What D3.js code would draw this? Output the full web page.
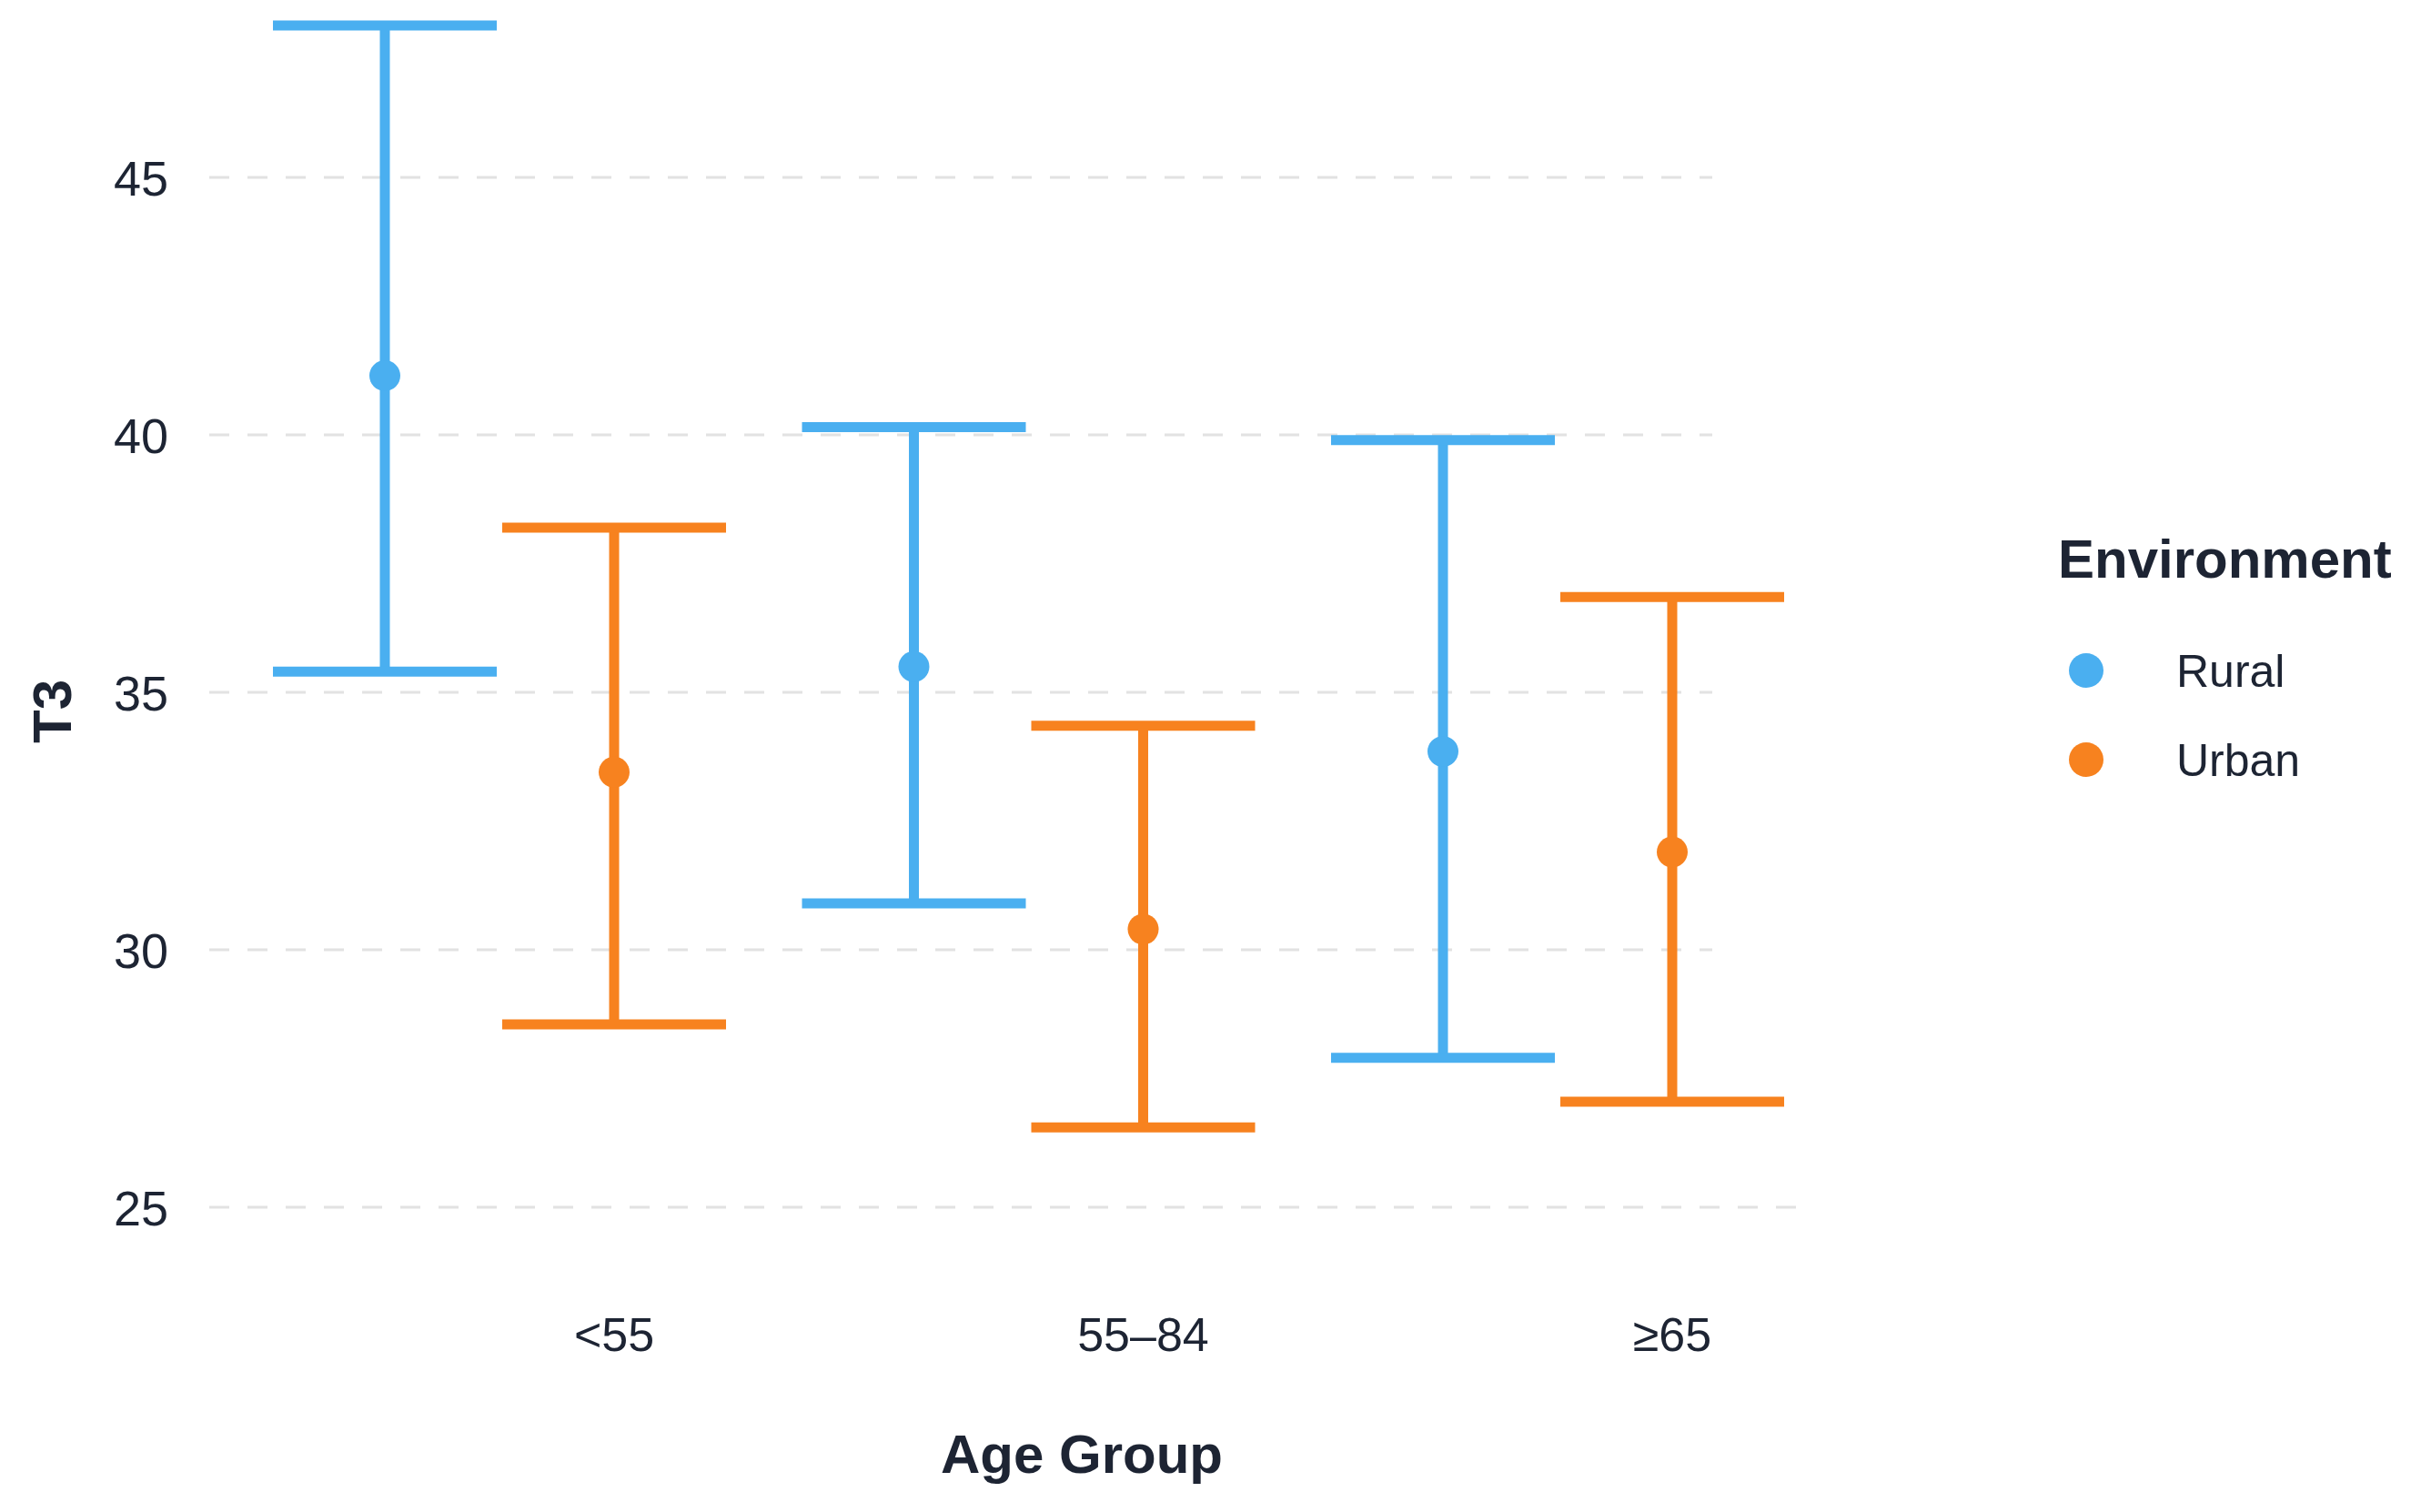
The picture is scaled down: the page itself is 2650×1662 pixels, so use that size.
<!DOCTYPE html>
<html>
<head>
<meta charset="utf-8">
<script src="https://cdn.jsdelivr.net/npm/d3@7/dist/d3.min.js"></script>
<style>
  html, body { margin: 0; padding: 0; background: #ffffff; }
  svg { display: block; }
  text { font-family: "Liberation Sans", Arial, Helvetica, sans-serif; }
</style>
</head>
<body>
<svg id="chart" width="2650" height="1662"></svg>
<script>
// ---- data ----
const categories = ["<55", "55–84", "≥65"];
const series = ["Rural", "Urban"];
const ruralMean  = [41.15, 35.5, 33.85];
const ruralLower = [35.4, 30.9, 27.9];
const ruralUpper = [47.95, 40.15, 39.9];
const urbanMean  = [33.45, 30.4, 31.9];
const urbanLower = [28.55, 26.55, 27.05];
const urbanUpper = [38.2, 34.35, 36.85];
const yTicks = [25, 30, 35, 40, 45];
const colors = ["#4AAFF0", "#F7821F"];

const xTitle = "Age Group";
const yTitle = "T3";
const legendTitle = "Environment";

// ---- build rows ----
const rows = [];
categories.forEach((c, i) => {
  rows.push({cat: c, s: "Rural", mean: ruralMean[i], lo: ruralLower[i], hi: ruralUpper[i]});
  rows.push({cat: c, s: "Urban", mean: urbanMean[i], lo: urbanLower[i], hi: urbanUpper[i]});
});

const svg = d3.select("#chart");
const textColor = "#1d2433";

const x = d3.scalePoint().domain(categories).range([549, 1712]);
const dodge = d3.scalePoint().domain(series).range([-126, 126]);
const y = d3.scaleLinear().domain([25, 45]).range([1327, 195]);
const color = d3.scaleOrdinal().domain(series).range(colors);

// ---- gridlines ----
const gridLeft = 230;
svg.append("g").selectAll("line")
  .data(yTicks)
  .join("line")
  .attr("x1", gridLeft)
  .attr("x2", (d, i) => i === 0 ? 1994 : 1882)
  .attr("y1", d => y(d))
  .attr("y2", d => y(d))
  .attr("stroke", "#e2e2e2")
  .attr("stroke-width", 3)
  .attr("stroke-dasharray", "22,20");

// ---- y axis labels ----
const yAxis = d3.axisLeft(y).tickValues(yTicks).tickSize(0).tickPadding(0).tickFormat(d3.format("d"));
const gy = svg.append("g").attr("transform", "translate(185,0)").call(yAxis);
gy.select(".domain").remove();
gy.selectAll("text")
  .attr("font-size", 54)
  .attr("fill", textColor)
  .attr("dy", "0.36em")
  .style("font-family", "'Liberation Sans', Arial, sans-serif");

// ---- x axis labels ----
svg.append("g").selectAll("text")
  .data(categories)
  .join("text")
  .attr("x", d => x(d) + dodge("Urban"))
  .attr("y", 1485)
  .attr("text-anchor", "middle")
  .attr("font-size", 52)
  .attr("fill", textColor)
  .text(d => d);

// ---- error bars ----
const capHalf = 123;
const g = svg.append("g");
const bars = g.selectAll("g.bar").data(rows).join("g").attr("class", "bar");
bars.append("line")
  .attr("x1", d => x(d.cat) + dodge(d.s))
  .attr("x2", d => x(d.cat) + dodge(d.s))
  .attr("y1", d => y(d.lo))
  .attr("y2", d => y(d.hi))
  .attr("stroke", d => color(d.s))
  .attr("stroke-width", 11);
bars.append("line")
  .attr("x1", d => x(d.cat) + dodge(d.s) - capHalf)
  .attr("x2", d => x(d.cat) + dodge(d.s) + capHalf)
  .attr("y1", d => y(d.hi))
  .attr("y2", d => y(d.hi))
  .attr("stroke", d => color(d.s))
  .attr("stroke-width", 11);
bars.append("line")
  .attr("x1", d => x(d.cat) + dodge(d.s) - capHalf)
  .attr("x2", d => x(d.cat) + dodge(d.s) + capHalf)
  .attr("y1", d => y(d.lo))
  .attr("y2", d => y(d.lo))
  .attr("stroke", d => color(d.s))
  .attr("stroke-width", 11);
bars.append("circle")
  .attr("cx", d => x(d.cat) + dodge(d.s))
  .attr("cy", d => y(d.mean))
  .attr("r", 17)
  .attr("fill", d => color(d.s));

// ---- axis titles ----
svg.append("text")
  .attr("x", 1189)
  .attr("y", 1619)
  .attr("text-anchor", "middle")
  .attr("font-size", 60)
  .attr("font-weight", "bold")
  .attr("fill", textColor)
  .text(xTitle);

svg.append("text")
  .attr("transform", "translate(78,782) rotate(-90)")
  .attr("text-anchor", "middle")
  .attr("font-size", 60)
  .attr("font-weight", "bold")
  .attr("fill", textColor)
  .text(yTitle);

// ---- legend ----
const legend = svg.append("g");
legend.append("text")
  .attr("x", 2262)
  .attr("y", 635)
  .attr("font-size", 60)
  .attr("font-weight", "bold")
  .attr("fill", textColor)
  .text(legendTitle);

const legY = d3.scalePoint().domain(series).range([737, 835]);
const items = legend.selectAll("g.item").data(series).join("g").attr("class", "item");
items.append("circle")
  .attr("cx", 2293)
  .attr("cy", d => legY(d))
  .attr("r", 19)
  .attr("fill", d => color(d));
items.append("text")
  .attr("x", 2392)
  .attr("y", d => legY(d))
  .attr("dy", "0.36em")
  .attr("font-size", 50)
  .attr("fill", textColor)
  .text(d => d);
</script>
</body>
</html>
